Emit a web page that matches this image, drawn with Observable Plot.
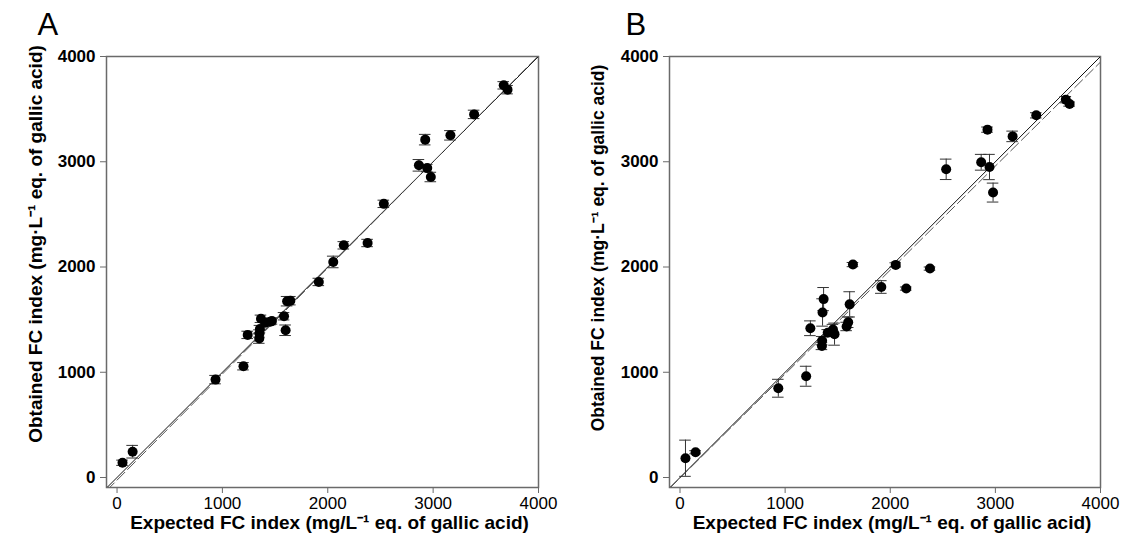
<!DOCTYPE html>
<html><head><meta charset="utf-8">
<script src="https://cdn.jsdelivr.net/npm/d3@7"></script>
<script src="https://cdn.jsdelivr.net/npm/@observablehq/plot@0.6"></script>
<style>
body{margin:0;background:#fff;}
#wrap{display:flex;width:1125px;height:551px;overflow:hidden;}
#wrap svg{display:block;flex:none;}
</style></head><body><div id="wrap"></div>
<script>
// Expected FC index (x), shared by both panels
const expected  = [52, 148, 935, 1200, 1240, 1350, 1352, 1356, 1366, 1405, 1455, 1470, 1585, 1600, 1614, 1645, 1915, 2052, 2152, 2378, 2532, 2865, 2925, 2944, 2978, 3164, 3389, 3670, 3706];
// Panel A: obtained values and error (half-range)
const obtainedA = [140, 245, 930, 1057, 1355, 1320, 1368, 1410, 1508, 1470, 1480, 1487, 1532, 1399, 1675, 1680, 1858, 2048, 2206, 2228, 2600, 2966, 3210, 2940, 2855, 3251, 3450, 3726, 3685];
const errA      = [25, 60, 40, 35, 35, 45, 35, 35, 35, 30, 30, 30, 35, 50, 45, 40, 35, 55, 35, 35, 35, 55, 50, 35, 45, 45, 40, 35, 40];
// Panel B: obtained values and error (half-range)
const obtainedB = [183, 240, 848, 962, 1418, 1250, 1300, 1568, 1695, 1375, 1405, 1362, 1435, 1475, 1645, 2023, 1810, 2020, 1795, 1985, 2928, 2995, 3305, 2950, 2707, 3241, 3441, 3590, 3548];
const errB      = [172, 15, 85, 95, 70, 35, 40, 130, 110, 30, 50, 105, 40, 50, 120, 20, 60, 20, 15, 15, 97, 75, 25, 120, 90, 50, 25, 30, 20];
// Regression lines [slope, intercept]
const fitA = [1.008, -25];
const fitB = [0.988, -5];
const axisTicks = [0, 1000, 2000, 3000, 4000];
const xDomain = [-100, 4000];
const yDomain = [-95, 4000];
const xTitle = "Expected FC index (mg/L\u207B\u00B9 eq. of gallic acid)";
const yTitle = "Obtained FC index (mg\u00B7L\u207B\u00B9 eq. of gallic acid)";

function panel(letter, obtained, err, fit, o) {
  const data = expected.map((x, i) => ({x, y: obtained[i], e: err[i]}));
  const fitLine = xDomain.map(x => ({x, y: fit[0] * x + fit[1]}));
  const identity = xDomain.map(x => ({x, y: x}));
  const cap = 55;
  return Plot.plot({
    width: o.width, height: 551,
    marginLeft: o.ml, marginRight: o.mr, marginTop: 56, marginBottom: 64,
    x: {domain: xDomain},
    y: {domain: yDomain},
    style: {fontFamily: "'Liberation Sans', Arial, sans-serif", background: "#fff", color: "#000"},
    marks: [
      Plot.frame({stroke: "#6a6a6a", strokeWidth: 1.5}),
      Plot.line(identity, {x: "x", y: "y", stroke: "#111", strokeWidth: 1, clip: true}),
      Plot.line(fitLine, {x: "x", y: "y", stroke: "#555", strokeWidth: 1, strokeDasharray: "11,4", clip: true}),
      Plot.ruleX(data, {x: "x", y1: d => d.y - d.e, y2: d => d.y + d.e, stroke: "#333", strokeWidth: 1}),
      Plot.ruleY(data, {y: d => d.y - d.e, x1: d => d.x - cap, x2: d => d.x + cap, stroke: "#333", strokeWidth: 1}),
      Plot.ruleY(data, {y: d => d.y + d.e, x1: d => d.x - cap, x2: d => d.x + cap, stroke: "#333", strokeWidth: 1}),
      Plot.dot(data, {x: "x", y: "y", r: 5, fill: "#000", stroke: "none"}),
      Plot.axisX({ticks: axisTicks, tickFormat: d => String(d), tickSize: 6, tickPadding: 3, fontSize: 17, label: null, stroke: "#6a6a6a", fill: "#000"}),
      Plot.axisY({ticks: axisTicks, tickFormat: d => String(d), tickSize: 6, tickPadding: 5, fontSize: 17, fontWeight: "bold", label: null, stroke: "#6a6a6a", fill: "#000"}),
      Plot.text([xTitle], {text: d => d, frameAnchor: "bottom", dx: 7, dy: 35, fontSize: 19, fontWeight: "bold", textAnchor: "middle", lineAnchor: "middle", fill: "#000"}),
      Plot.text([yTitle], {text: d => d, frameAnchor: "left", rotate: -90, dx: -71, dy: o.ydy, fontSize: o.yfs, fontWeight: "bold", textAnchor: "middle", lineAnchor: "middle", fill: "#000"}),
      Plot.text([letter], {text: d => d, frameAnchor: "top-left", dx: o.ldx, dy: -22, fontSize: 31, textAnchor: "start", lineAnchor: "bottom", fill: "#000"})
    ]
  });
}

const wrap = document.getElementById("wrap");
wrap.appendChild(panel("A", obtainedA, errA, fitA, {width: 562, ml: 106, mr: 24, ldx: -69, ydy: -28, yfs: 19}));
wrap.appendChild(panel("B", obtainedB, errB, fitB, {width: 563, ml: 107, mr: 25, ldx: -44, ydy: -24, yfs: 17.5}));
</script></body></html>
